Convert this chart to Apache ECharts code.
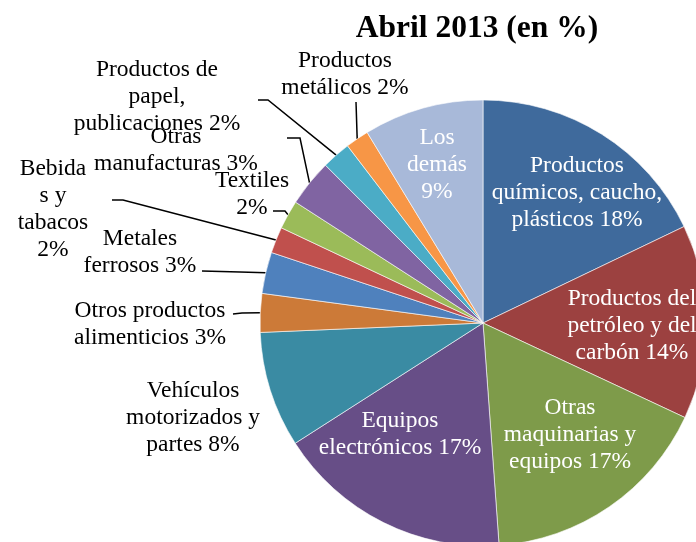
<!DOCTYPE html>
<html>
<head>
<meta charset="utf-8">
<script src="https://cdn.jsdelivr.net/npm/echarts@6/dist/echarts.min.js"></script>
<style>
html,body{margin:0;padding:0;background:#fff;}
#chart{width:696px;height:542px;}
</style>
</head>
<body>
<div id="chart"></div>
<script>
// ---- data ----
var categories = [
  'Productos\nquímicos, caucho,\nplásticos %p',
  'Productos del\npetróleo y del\ncarbón %p',
  'Otras\nmaquinarias y\nequipos %p',
  'Equipos\nelectrónicos %p',
  'Vehículos\nmotorizados y\npartes %p',
  'Otros productos\nalimenticios %p',
  'Metales\nferrosos %p',
  'Bebida\ns y\ntabacos\n%p',
  'Textiles\n%p',
  'Otras\nmanufacturas %p',
  'Productos de\npapel,\npublicaciones %p',
  'Productos\nmetálicos %p',
  'Los\ndemás\n%p'
];
var values = [17.9, 14.1, 16.9, 17.1, 8.4, 2.8, 3.0, 1.9, 2.1, 3.4, 2.1, 1.7, 8.7];
var titleText = 'Abril 2013 (en %)';

// ---- styles ----
var colors = ['#3F6A9C','#9C4140','#7E9B4A','#674E87','#3A8BA3','#CC7A38','#4F81BD','#C0504D','#9BBB59','#8064A2','#4BACC6','#F79646','#A8B9D9'];
var inside = [true,true,true,true,false,false,false,false,false,false,false,false,true];
var showLine = [false,false,false,false,false,true,true,true,true,true,true,true,false];
// label centre positions and leader line bends (layout styling)
var labelPos = [
  [577,193],[632,326],[570,435],[400,434],[193,418],[150,324],[140,252],[53,209],[252,194],[176,150],[157,97],[345,74],[437,165]
];
var lineBends = {
  5: [[242,313],[233,314]],
  6: [[240,272],[202,271]],
  7: [[123,200],[112,200]],
  8: [[285,211],[273,211]],
  9: [[300,138],[287,138]],
  10: [[268,100],[258,100]],
  11: [[356,102]]
};

var data = categories.map(function (c, i) {
  return {
    name: c,
    value: values[i],
    itemStyle: {color: colors[i]},
    label: {
      position: inside[i] ? 'inside' : 'outside',
      color: inside[i] ? '#ffffff' : '#000000'
    },
    labelLine: {show: showLine[i]}
  };
});

var chart = echarts.init(document.getElementById('chart'), null, {renderer: 'canvas'});
chart.setOption({
  animation: false,
  backgroundColor: '#ffffff',
  title: {
    text: titleText,
    left: 472,
    top: 8,
    textAlign: 'center',
    textStyle: {fontFamily: 'Liberation Serif', fontWeight: 'bold', fontSize: 31.5, color: '#000'}
  },
  series: [{
    type: 'pie',
    center: [483, 323],
    radius: [0, 223],
    startAngle: 90,
    clockwise: true,
    avoidLabelOverlap: false,
    itemStyle: {borderColor: '#ffffff', borderWidth: 0.6},
    label: {
      show: true,
      fontFamily: 'Liberation Serif',
      fontSize: 23.5,
      lineHeight: 27,
      align: 'center',
      formatter: function (p) {
        return p.name.replace('%p', Math.round(p.value) + '%');
      }
    },
    labelLine: {
      lineStyle: {color: '#000', width: 1.5},
      length: 10,
      length2: 10
    },
    labelLayout: function (params) {
      var i = params.dataIndex;
      var res = {x: labelPos[i][0], y: labelPos[i][1], align: 'center', verticalAlign: 'middle'};
      if (lineBends[i] && params.labelLinePoints) {
        res.labelLinePoints = [params.labelLinePoints[0]].concat(lineBends[i]);
      }
      return res;
    },
    data: data
  }]
});
</script>
</body>
</html>
